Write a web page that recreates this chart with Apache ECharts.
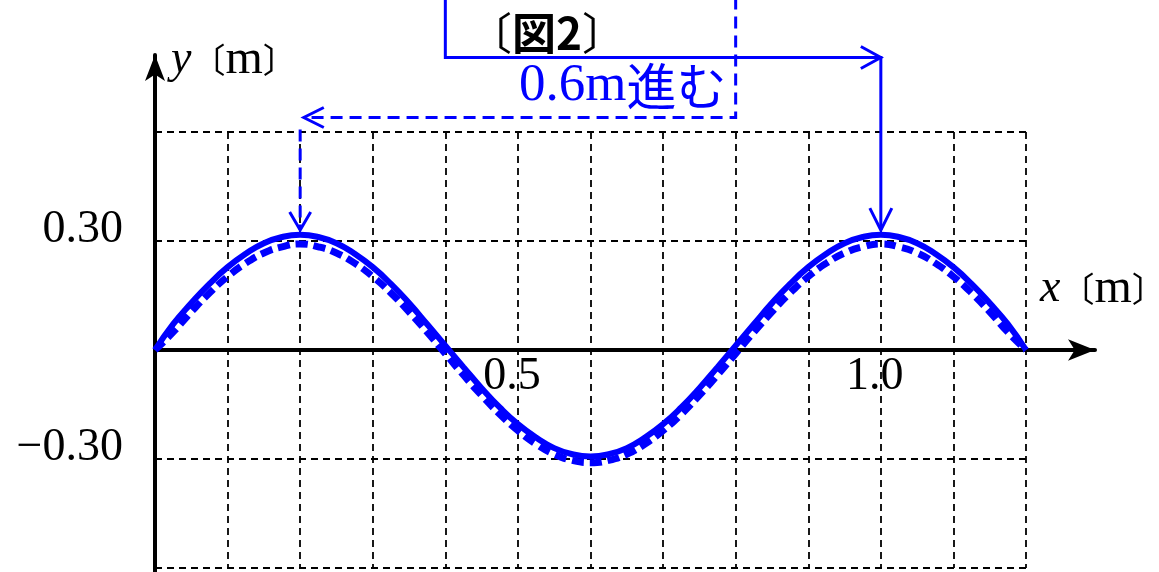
<!DOCTYPE html>
<html>
<head>
<meta charset="utf-8">
<title>Wave 0.6m</title>
<script src="https://cdn.jsdelivr.net/npm/echarts@6/dist/echarts.min.js"></script>
<style>
    html, body { margin: 0; padding: 0; background: #fff; }
    #chart { width: 1159px; height: 572px; }
</style>
</head>
<body>
<div id="chart"></div>
<script>
// x positions [m]
const xValues = [0, 0.025, 0.05, 0.075, 0.1, 0.125, 0.15, 0.175, 0.2, 0.225, 0.25, 0.275, 0.3, 0.325, 0.35, 0.375,
                 0.4, 0.425, 0.45, 0.475, 0.5, 0.525, 0.55, 0.575, 0.6, 0.625, 0.65, 0.675, 0.7, 0.725, 0.75, 0.775,
                 0.8, 0.825, 0.85, 0.875, 0.9, 0.925, 0.95, 0.975, 1.0, 1.025, 1.05, 1.075, 1.1, 1.125, 1.15, 1.175, 1.2];
// displacement [m]
const waveSolid = [0, 0.071, 0.129, 0.182, 0.228, 0.265, 0.294, 0.311, 0.317, 0.311, 0.294, 0.265, 0.228, 0.182, 0.129, 0.071,
                   0.012, -0.047, -0.105, -0.158, -0.204, -0.241, -0.27, -0.287, -0.293, -0.287, -0.27, -0.241, -0.204, -0.158, -0.105, -0.047,
                   0.012, 0.071, 0.129, 0.182, 0.228, 0.265, 0.294, 0.311, 0.317, 0.311, 0.294, 0.265, 0.228, 0.182, 0.129, 0.071, 0];
const waveDashed = [0, 0.049, 0.105, 0.157, 0.202, 0.239, 0.267, 0.284, 0.292, 0.284, 0.267, 0.239, 0.202, 0.157, 0.105, 0.049,
                    -0.01, -0.069, -0.125, -0.177, -0.222, -0.259, -0.287, -0.304, -0.31, -0.304, -0.287, -0.259, -0.222, -0.177, -0.125, -0.069,
                    -0.01, 0.049, 0.105, 0.157, 0.202, 0.239, 0.267, 0.284, 0.292, 0.284, 0.267, 0.239, 0.202, 0.157, 0.105, 0.049, 0];
// tick labels
const xTickLabels = [[0.5, '0.5'], [1.0, '1.0']];
const yTickLabels = [[0.3, '0.30'], [-0.3, '\u22120.30']];
// annotation anchors in data units
const solidPath = [[0.4, 0.97], [0.4, 0.805], [1.0, 0.805], [1.0, 0.33]];
const dashedPath = [[0.8, 0.97], [0.8, 0.64], [0.205, 0.64]];
const dashedDrop = [[0.2, 0.607], [0.2, 0.33]];

const BLUE = '#0000ff';
const SERIF = "'Liberation Serif', 'DejaVu Serif', serif";
const CJK = "'Noto Sans CJK JP', sans-serif";

const chart = echarts.init(document.getElementById('chart'));

function pickLabel(list, v) {
    for (const [val, txt] of list) {
        if (Math.abs(val - v) < 1e-6) return txt;
    }
    return '';
}

const gridDash = { color: '#000', width: 1.8, type: [7, 5] };
const hidden = {
    axisLine: { show: false }, axisTick: { show: false },
    axisLabel: { show: false }, splitLine: { show: false }
};

chart.setOption({
    animation: false,
    backgroundColor: '#fff',
    grid: [
        // plot area with the dashed grid
        { left: 155, right: 133, top: 132, bottom: 4, outerBoundsMode: 'none' },
        // axes with arrows
        { left: 155, right: 64, top: 55, bottom: -73, outerBoundsMode: 'none' },
        // strip whose bottom edge is y = 0, carries x tick labels
        { left: 155, right: 133, top: 132, bottom: 222, outerBoundsMode: 'none' }
    ],
    xAxis: [{
        gridIndex: 0, type: 'value', min: 0, max: 1.2, interval: 0.1,
        axisLine: { show: false }, axisTick: { show: false }, axisLabel: { show: false },
        splitLine: { show: true, lineStyle: gridDash }
    }, {
        gridIndex: 1, type: 'value', min: 0, max: 1.295,
        axisLine: { show: true, onZero: true, symbol: ['none', 'arrow'], symbolSize: [16, 27],
                    lineStyle: { color: '#000', width: 4 } },
        axisTick: { show: false }, axisLabel: { show: false }, splitLine: { show: false }
    }, {
        gridIndex: 2, type: 'value', min: 0, max: 1.2, interval: 0.1, position: 'bottom',
        axisLine: { show: false, onZero: false }, axisTick: { show: false }, splitLine: { show: false },
        axisLabel: {
            show: true, margin: 4, padding: [0, 12, 0, 0],
            fontFamily: SERIF, fontSize: 46, color: '#000',
            formatter: v => pickLabel(xTickLabels, v)
        }
    }],
    yAxis: [{
        gridIndex: 0, type: 'value', min: -0.6, max: 0.6, interval: 0.3,
        axisLine: { show: true, lineStyle: { color: 'rgba(0,0,0,0)' } },
        axisTick: { show: true, inside: true, length: 5, lineStyle: { color: '#000', width: 2 } },
        splitLine: { show: true, lineStyle: gridDash },
        axisLabel: {
            margin: 32, verticalAlign: 'bottom', lineHeight: 22,
            fontFamily: SERIF, fontSize: 46, color: '#000',
            formatter: v => pickLabel(yTickLabels, v)
        }
    }, {
        gridIndex: 1, type: 'value', min: -0.8125, max: 0.8125,
        axisLine: { show: true, onZero: true, symbol: ['none', 'arrow'], symbolSize: [15, 26],
                    lineStyle: { color: '#000', width: 4 } },
        axisTick: { show: false }, axisLabel: { show: false }, splitLine: { show: false }
    }, Object.assign({ gridIndex: 2, type: 'value', min: 0, max: 1 }, hidden)],
    series: [{
        type: 'line', xAxisIndex: 0, yAxisIndex: 0,
        data: xValues.map((x, i) => [x, waveSolid[i]]),
        smooth: true, symbol: 'none',
        lineStyle: { color: BLUE, width: 6 }
    }, {
        type: 'line', xAxisIndex: 0, yAxisIndex: 0,
        data: xValues.map((x, i) => [x, waveDashed[i]]),
        smooth: true, symbol: 'none',
        lineStyle: { color: BLUE, width: 7, type: [12, 6] }
    }]
});

// annotations: arrows placed from data anchors
const px = p => chart.convertToPixel({ xAxisIndex: 0, yAxisIndex: 0 }, p);

function chevron(tip, dx, dy, len, half) {
    // dx,dy: unit direction the arrow points to
    const bx = tip[0] - dx * len, by = tip[1] - dy * len;
    return [[bx - dy * half, by + dx * half], tip, [bx + dy * half, by - dx * half]];
}

const sp = solidPath.map(px);
const dp = dashedPath.map(px);
const dd = dashedDrop.map(px);
const stroke = { stroke: BLUE, fill: null, lineWidth: 3 };
const dashStroke = { stroke: BLUE, fill: null, lineWidth: 3, lineDash: [12, 7] };

function axisTitle(x, y, letter) {
    return {
        type: 'text', x: x, y: y, z: 10,
        style: {
            text: '{i|' + letter + '}{b|〔}{r|m}{b|〕}', textVerticalAlign: 'middle',
            rich: {
                i: { fontFamily: SERIF, fontSize: 46, fontStyle: 'italic', fill: '#000' },
                b: { fontFamily: CJK, fontSize: 34, fill: '#000' },
                r: { fontFamily: SERIF, fontSize: 48, fill: '#000' }
            }
        }
    };
}

chart.setOption({
    graphic: [
        { type: 'polyline', shape: { points: sp }, style: stroke, z: 10 },
        { type: 'polyline', shape: { points: chevron(sp[2], 1, 0, 20, 11) }, style: stroke, z: 10 },
        { type: 'polyline', shape: { points: chevron(sp[3], 0, 1, 22, 11) }, style: stroke, z: 10 },
        { type: 'polyline', shape: { points: dp }, style: dashStroke, z: 10 },
        { type: 'polyline', shape: { points: chevron(dp[2], -1, 0, 20, 10) }, style: stroke, z: 10 },
        { type: 'polyline', shape: { points: dd }, style: dashStroke, z: 10 },
        { type: 'polyline', shape: { points: chevron(dd[1], 0, 1, 18, 10.5) }, style: stroke, z: 10 },
        {
            type: 'text', x: 468, y: 33, z: 10,
            style: {
                text: '{b|〔}{t|図2}{b|〕}', textVerticalAlign: 'middle',
                rich: {
                    b: { fontFamily: CJK, fontSize: 44, fill: '#000' },
                    t: { fontFamily: CJK, fontSize: 44, fontWeight: 'bold', fill: '#000' }
                }
            }
        },
        {
            type: 'text', x: 519, y: 86, z: 10,
            style: {
                text: '{n|0.6m}{j|進む}', textVerticalAlign: 'middle',
                rich: {
                    n: { fontFamily: SERIF, fontSize: 53, fill: BLUE },
                    j: { fontFamily: CJK, fontSize: 50, fill: BLUE }
                }
            }
        },
        axisTitle(171, 60, 'y'),
        axisTitle(1040, 289, 'x')
    ]
});
</script>
</body>
</html>
